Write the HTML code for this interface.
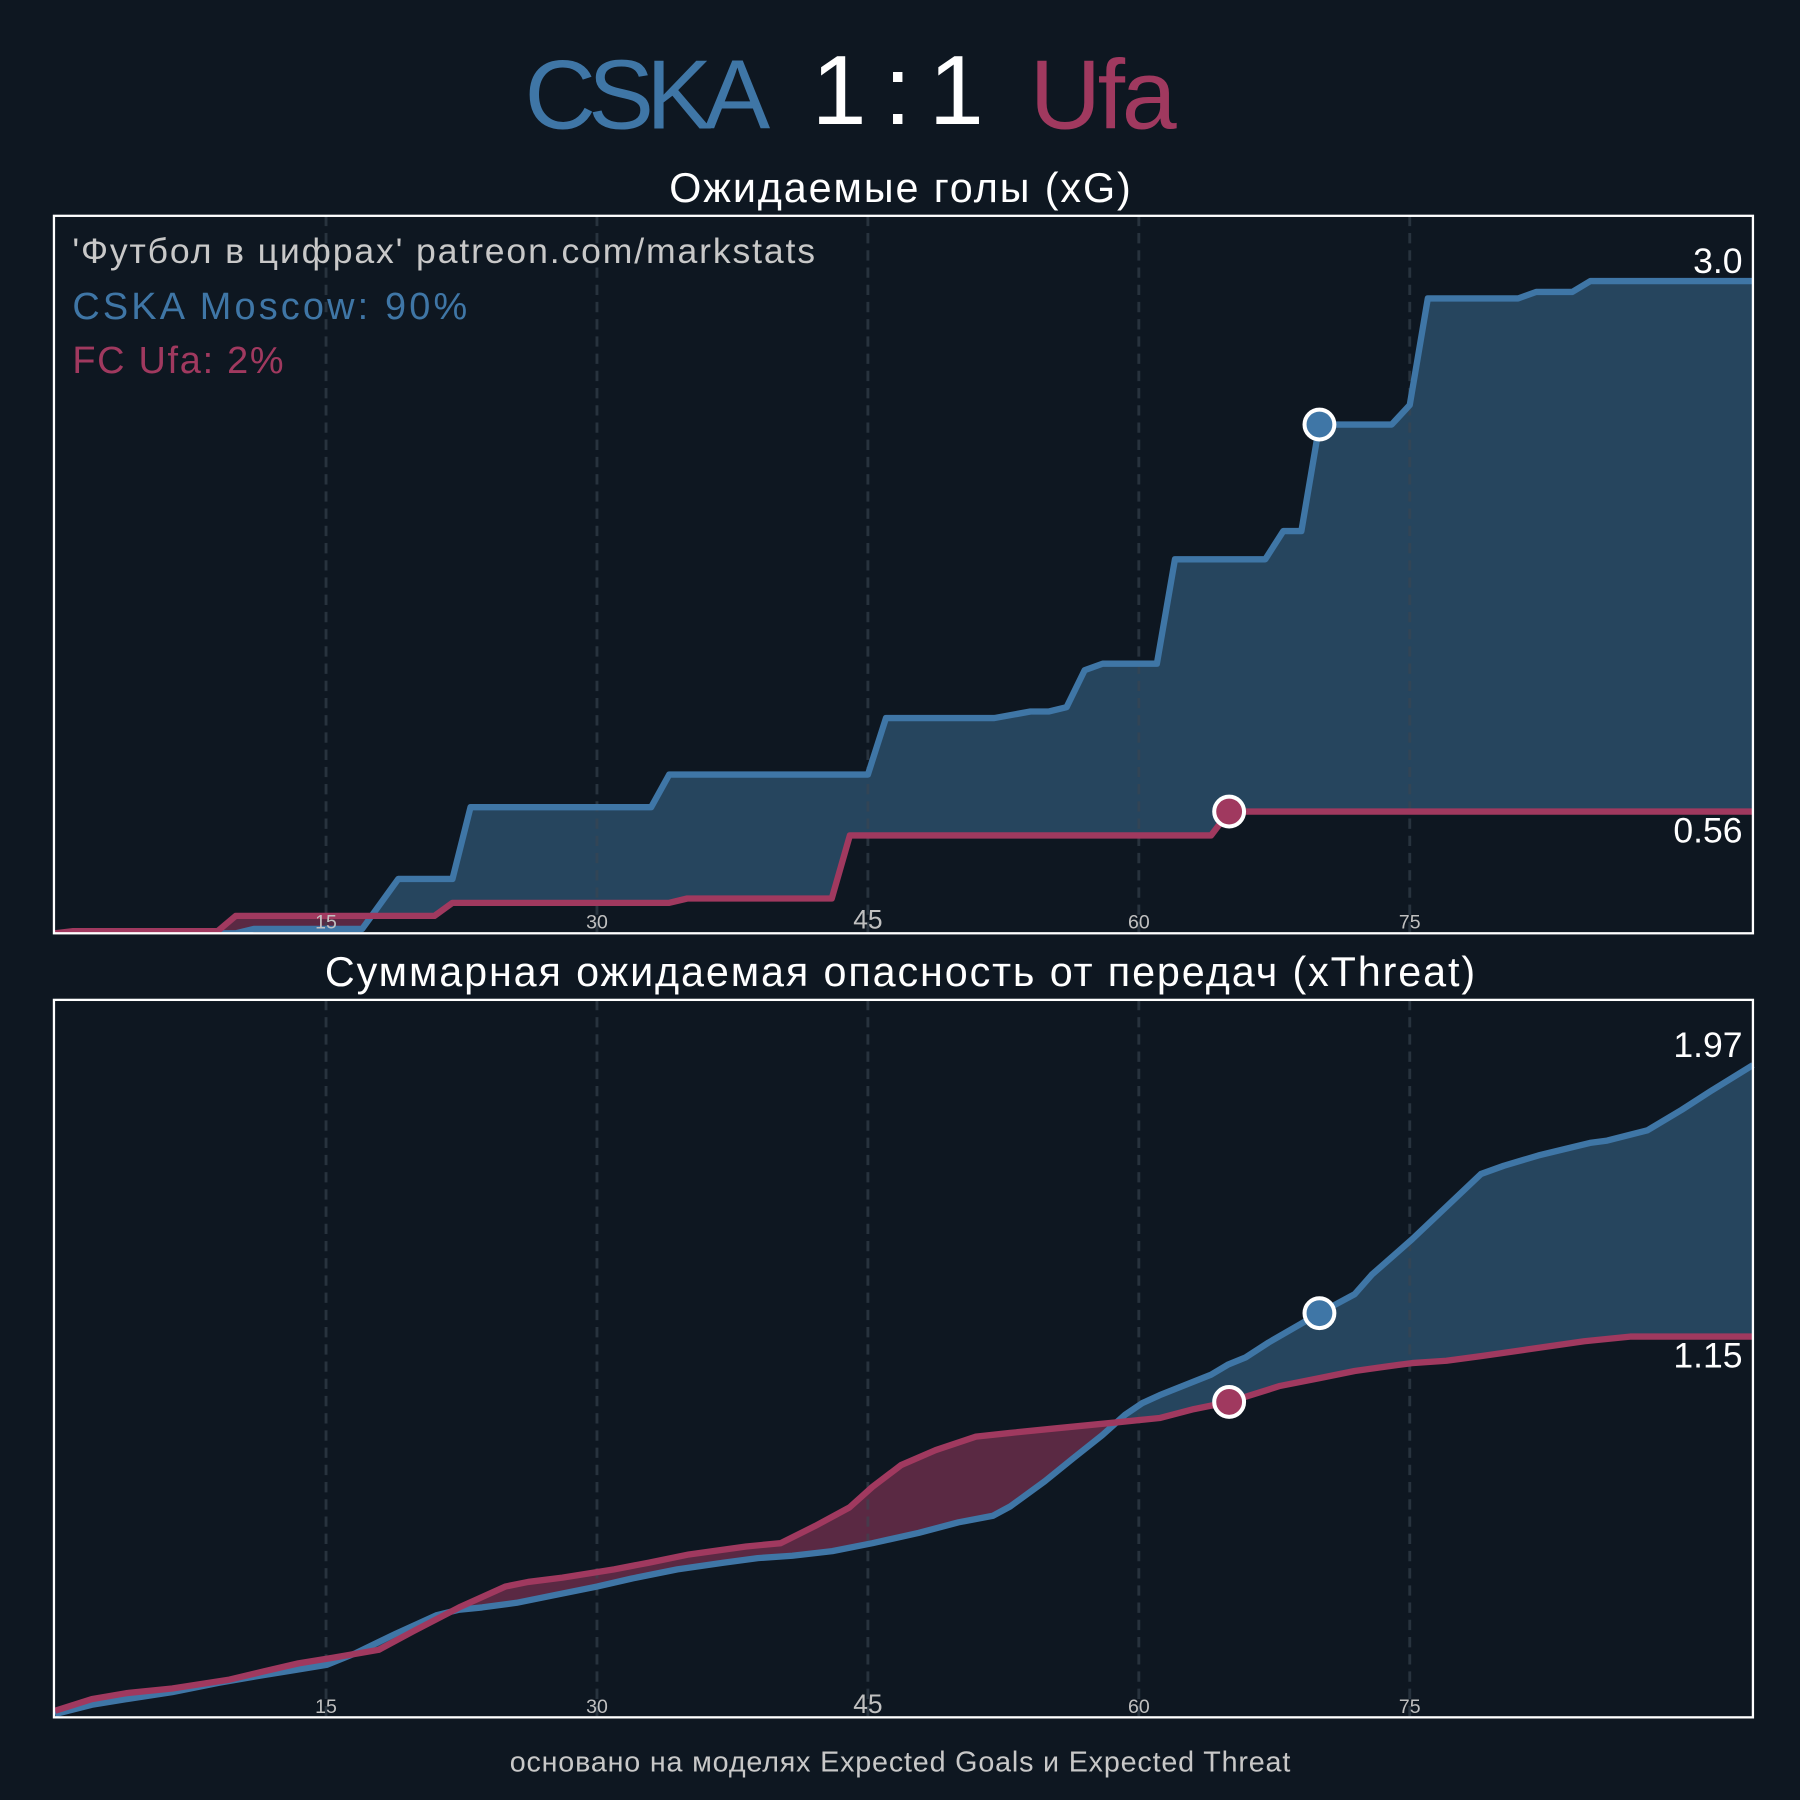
<!DOCTYPE html>
<html><head><meta charset="utf-8"><style>
html,body{margin:0;padding:0;background:#0e1721;}
svg{display:block;font-family:"Liberation Sans","DejaVu Sans",sans-serif;}
</style></head><body>
<svg id="chart" width="1800" height="1800" viewBox="0 0 1568 1568" xmlns="http://www.w3.org/2000/svg">
<rect width="1568" height="1568" fill="#0e1721"/>
<g font-size="86">
<text x="564" y="112" text-anchor="middle" fill="#3f76a6" textLength="214">CSKA</text>
<text x="782" y="108" text-anchor="middle" fill="#ffffff" textLength="150">1 : 1</text>
<text x="961" y="112" text-anchor="middle" fill="#a0395f" textLength="128">Ufa</text>
</g>
<text x="784" y="176" text-anchor="middle" font-size="36" fill="#ffffff" textLength="402">Ожидаемые голы (xG)</text>
<text x="784" y="859" text-anchor="middle" font-size="36" fill="#ffffff" textLength="1002">Суммарная ожидаемая опасность от передач (xThreat)</text>
<text x="784" y="1543" text-anchor="middle" font-size="25" fill="#c8c8c8" textLength="680">основано на моделях Expected Goals и Expected Threat</text>
<g id="p1"></g>
<g id="p2"></g>
<text x="63" y="229" font-size="31" fill="#c8c8c8" textLength="647">'Футбол в цифрах' patreon.com/markstats</text>
<text x="63" y="278" font-size="33" fill="#3f76a6" textLength="344">CSKA Moscow: 90%</text>
<text x="63" y="325" font-size="33" fill="#a0395f" textLength="184">FC Ufa: 2%</text>
</svg>
<script>
const xgHomeMinutes = [0,10,11,17,19,22,23,33,34,45,46,52,54,55,56,57,58,61,62,67,68,69,70,74,75,76,81,82,84,85,94];
const xgHomeValues = [0,0,0.02,0.02,0.25,0.25,0.58,0.58,0.73,0.73,0.99,0.99,1.02,1.02,1.04,1.21,1.24,1.24,1.72,1.72,1.85,1.85,2.34,2.34,2.43,2.92,2.92,2.95,2.95,3.0,3.0];
const xgAwayMinutes = [0,1,9,10,21,22,34,35,43,44,64,65,94];
const xgAwayValues = [0,0.01,0.01,0.08,0.08,0.14,0.14,0.16,0.16,0.45,0.45,0.56,0.56];
const xtHomeMinutes = [0,2.03,3.94,6.48,9.03,11.57,13.16,15.06,16.65,18.88,21.1,22.37,23.64,25.55,27.46,30,31.91,34.45,36.99,38.9,40.81,43.03,45.25,47.8,50.02,51.93,52.88,54.79,56.38,57.97,59.24,60.19,61.15,64,64.96,65.91,67.18,70.04,71.95,72.9,75.13,78.94,80.21,82.12,84.98,85.93,88.16,90.06,91.65,94];
const xtHomeValues = [0.01,0.038,0.055,0.076,0.104,0.128,0.142,0.159,0.194,0.253,0.308,0.325,0.332,0.346,0.367,0.395,0.419,0.447,0.467,0.481,0.488,0.502,0.526,0.557,0.589,0.609,0.637,0.713,0.783,0.852,0.914,0.949,0.973,1.035,1.066,1.087,1.132,1.222,1.278,1.337,1.444,1.641,1.666,1.697,1.735,1.742,1.773,1.835,1.891,1.97];
const xtAwayMinutes = [0,2.03,3.94,6.48,9.66,11.57,13.47,15.38,17.92,19.83,22.37,24.92,26.19,28.09,30.95,32.86,35.09,38.26,40.17,42.08,43.98,45.25,46.84,48.75,50.98,52.88,55.42,58.6,61.15,63.05,64.96,67.82,70.04,71.95,73.22,75.13,77.03,78.94,81.48,84.66,87.2,94];
const xtAwayValues = [0.02,0.055,0.073,0.087,0.114,0.139,0.163,0.18,0.204,0.26,0.332,0.395,0.409,0.422,0.447,0.467,0.492,0.516,0.526,0.578,0.634,0.696,0.762,0.807,0.848,0.859,0.873,0.89,0.904,0.931,0.952,1.001,1.025,1.046,1.056,1.07,1.077,1.091,1.111,1.136,1.15,1.15];
const tickMinutes = [15,30,45,60,75];
const homeGoalMinutes = [70];
const awayGoalMinutes = [65];
const xgLabels = ["3.0","0.56"];
const xtLabels = ["1.97","1.15"];

const NS = "http://www.w3.org/2000/svg";
const BLUE="#3f76a6", PINK="#a0395f", BLUEF="#26455e", PINKF="#5a2943";
function mk(tag, attrs, parent){const e=document.createElementNS(NS,tag);for(const k in attrs)e.setAttribute(k,attrs[k]);parent.appendChild(e);return e;}
function interp(ms, vs, m){if(m<=ms[0])return vs[0];for(let i=1;i<ms.length;i++){if(m<=ms[i]){const t=(m-ms[i-1])/(ms[i]-ms[i-1]);return vs[i-1]+t*(vs[i]-vs[i-1]);}}return vs[vs.length-1];}

function panel(g, id, top, bottom, hm, hv, am, av, labels){
  const L=47, R=1527, xMax=94;
  const yMax = 1.1*Math.max(...hv, ...av);
  const x = m => 48 + (m/xMax)*(R-48) ;
  const y = v => bottom - (v/yMax)*(bottom-top);
  const pts=(ms,vs)=>ms.map((m,i)=>x(m)+','+y(vs[i])).join(' ');
  const defs=mk('defs',{},g);
  const c1=mk('clipPath',{id:id+'abovePink'},defs);
  mk('polygon',{points:pts(am,av)+' '+x(xMax)+','+(top-50)+' '+x(0)+','+(top-50)},c1);
  const c2=mk('clipPath',{id:id+'aboveBlue'},defs);
  mk('polygon',{points:pts(hm,hv)+' '+x(xMax)+','+(top-50)+' '+x(0)+','+(top-50)},c2);
  const c3=mk('clipPath',{id:id+'box'},defs);
  mk('rect',{x:L,y:top-20,width:R-L+10,height:bottom-top+20},c3);
  const fg=mk('g',{'clip-path':'url(#'+id+'box)'},g);
  const f1=mk('polygon',{points:pts(hm,hv)+' '+x(xMax)+','+(bottom+50)+' '+x(0)+','+(bottom+50),fill:BLUEF,'clip-path':'url(#'+id+'abovePink)'},fg);
  
  
  const f2=mk('polygon',{points:pts(am,av)+' '+x(xMax)+','+(bottom+50)+' '+x(0)+','+(bottom+50),fill:PINKF,'clip-path':'url(#'+id+'aboveBlue)'},fg);
  
  
  for(const t of tickMinutes){
    const gl=mk('line',{x1:x(t),x2:x(t),y1:top,y2:bottom,stroke:'#3a4652','stroke-opacity':0.6,'stroke-width':2.5,'stroke-dasharray':'9,6'},g);
    
    
  }
  const lg=mk('g',{'clip-path':'url(#'+id+'box)'},g);
  const l1=mk('polyline',{points:pts(hm,hv),fill:'none',stroke:BLUE,'stroke-width':5.5,'stroke-linejoin':'round'},lg);
  
  
  const l2=mk('polyline',{points:pts(am,av),fill:'none',stroke:PINK,'stroke-width':5.5,'stroke-linejoin':'round'},lg);
  
  
  for(const t of tickMinutes){
    const tl=mk('text',{x:x(t),y:bottom-4,'text-anchor':'middle','font-size':t===45?23:17,fill:'#c0c0c0'},g);
    tl.textContent=String(t);
    
    
  }
  const fr=mk('rect',{x:L,y:top,width:R-L,height:bottom-top,fill:'none',stroke:'#ffffff','stroke-width':2},g);
  
  
  for(const m of homeGoalMinutes){
    const c=mk('circle',{cx:x(m),cy:y(interp(hm,hv,m)),r:13,fill:BLUE,stroke:'#ffffff','stroke-width':3.5},g);
    
    
  }
  for(const m of awayGoalMinutes){
    const c=mk('circle',{cx:x(m),cy:y(interp(am,av,m)),r:13,fill:PINK,stroke:'#ffffff','stroke-width':3.5},g);
    
    
  }
  const hEnd=hv[hv.length-1], aEnd=av[av.length-1];
  const hi=Math.max(hEnd,aEnd), lo=Math.min(hEnd,aEnd);
  const t1=mk('text',{x:1518,y:y(hi)-7,'text-anchor':'end','font-size':31,fill:'#ffffff'},g);
  t1.textContent=labels[0];
  
  
  const t2=mk('text',{x:1518,y:y(lo)+27,'text-anchor':'end','font-size':31,fill:'#ffffff'},g);
  t2.textContent=labels[1];
  
  
}
panel(document.getElementById('p1'),'a',188,813,xgHomeMinutes,xgHomeValues,xgAwayMinutes,xgAwayValues,xgLabels);
panel(document.getElementById('p2'),'b',871,1496,xtHomeMinutes,xtHomeValues,xtAwayMinutes,xtAwayValues,xtLabels);
</script>
</body></html>
